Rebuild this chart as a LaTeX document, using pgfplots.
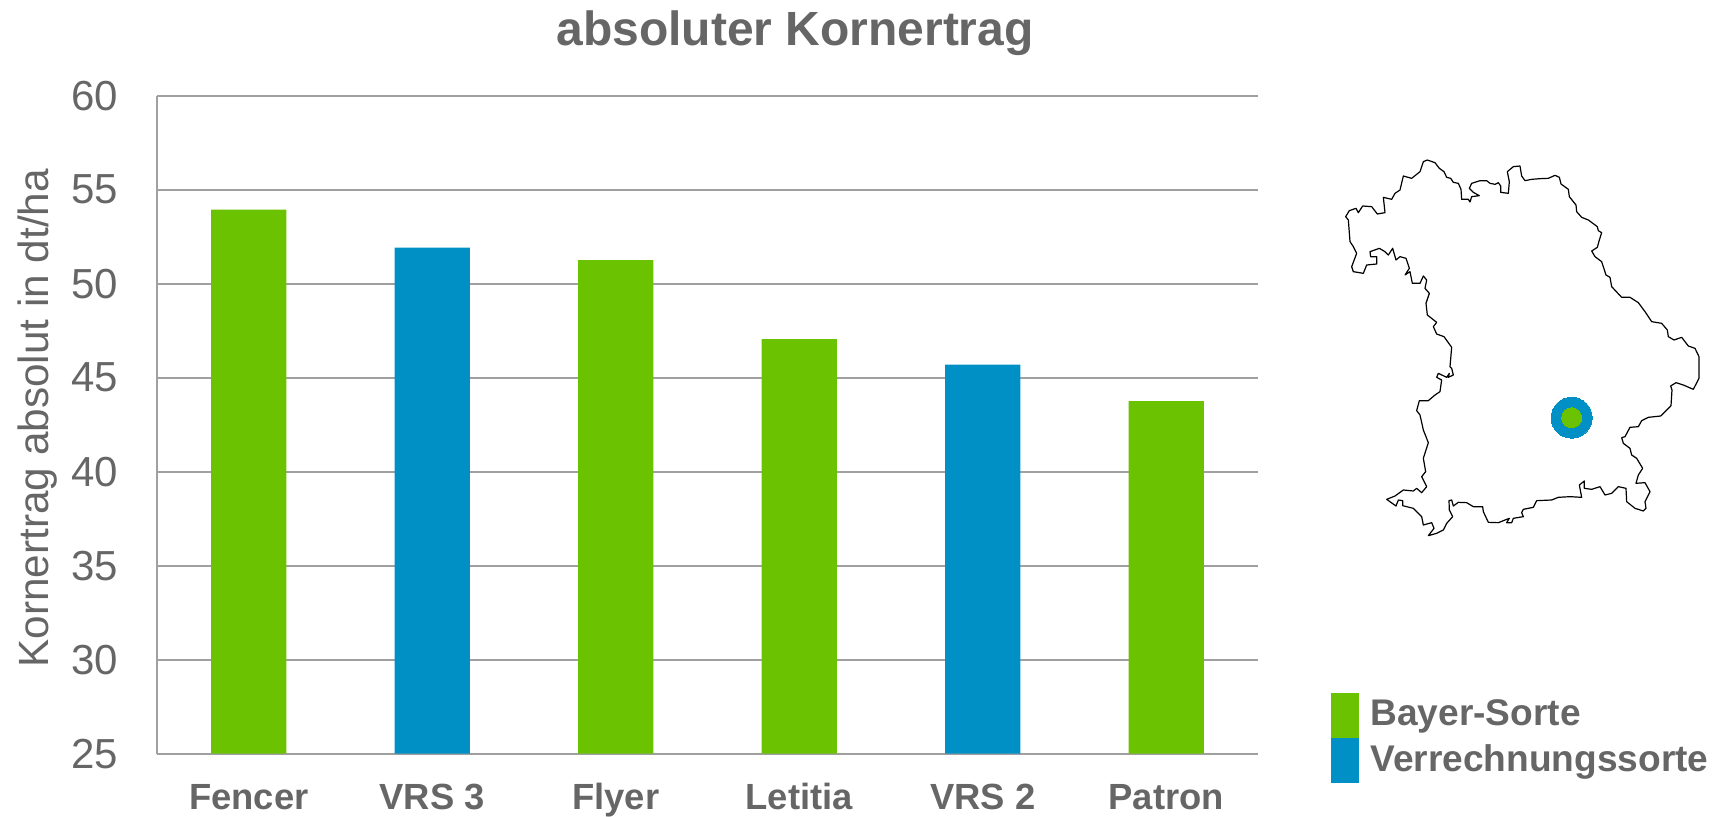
\documentclass[border=0pt]{standalone}
\usepackage{fontspec}
\setmainfont{Liberation Sans}
\usepackage{pgfplots}
\pgfplotsset{compat=1.18}
\definecolor{bgreen}{RGB}{107,194,0}
\definecolor{bblue}{RGB}{0,144,197}
\definecolor{txt}{RGB}{102,102,102}
\definecolor{gridc}{RGB}{160,160,160}
\begin{document}
\begin{tikzpicture}[x=0.5pt,y=-0.5pt]
\useasboundingbox (0,0) rectangle (1721,817);
\coordinate (sw) at (157,753.7);
\coordinate (mapnw) at (1320,140);
\begin{axis}[
  at={(sw)},anchor=south west,scale only axis,
  width=550.5pt,height=329pt,
  xmin=0,xmax=6,ymin=25,ymax=60,
  ytick={25,30,...,60},
  xtick={0.5,1.5,2.5,3.5,4.5,5.5},
  xticklabels={Fencer,VRS 3,Flyer,Letitia,VRS 2,Patron},
  axis lines=left,axis line style={-,gridc,line width=0.9pt},
  ymajorgrids,grid style={gridc,line width=0.9pt},
  major tick length=0pt,
  /pgf/number format/assume math mode=true,
  y tick label style={font=\fontsize{21}{25}\selectfont,text=txt,anchor=east,xshift=-15.8pt},
  x tick label style={font=\fontsize{18.2}{22}\selectfont\bfseries,text=txt,anchor=base,yshift=-28pt},
  ylabel={Kornertrag absolut in dt/ha},
  ylabel style={font=\fontsize{21.15}{25}\selectfont,text=txt,anchor=base,at={(axis description cs:-0.099,0.51)}},
  title={absoluter Kornertrag},
  title style={font=\fontsize{24}{28}\selectfont\bfseries,text=txt,anchor=base,at={(axis description cs:0.5795,1.058)}},
  ybar,bar width=37.7pt,
]
\addplot[ybar,bar shift=0pt,fill=bgreen,draw=none] coordinates {(0.5,53.94) (2.5,51.25) (3.5,47.05) (5.5,43.76)};
\addplot[ybar,bar shift=0pt,fill=bblue,draw=none] coordinates {(1.5,51.92) (4.5,45.7)};
\end{axis}
\begin{axis}[
  at={(mapnw)},anchor=north west,scale only axis,
  width=200pt,height=205pt,hide axis,clip=false,
  xmin=0,xmax=1200,ymin=0,ymax=1230,y dir=reverse,
]
\addplot[black,line width=0.6pt,line join=round] coordinates {
(322,60)(345,68)(358,85)(372,95)(380,112)(392,115)(400,127)(415,130)(423,148)(425,178)(445,178)(450,186)(455,170)(478,167)(460,157)(448,145)(455,130)(480,122)(500,122)(510,130)(525,133)(535,128)(542,138)(542,157)(565,160)(568,125)(562,95)(580,80)(600,78)(605,108)(615,122)(635,118)(660,116)(685,115)(705,106)(718,112)(723,132)(745,148)(748,170)(768,195)(770,215)(785,232)(805,240)(832,260)(835,272)(845,278)(838,300)(832,322)(815,333)(825,350)(845,365)(858,405)(870,412)(875,440)(905,472)(930,472)(955,488)(975,515)(995,545)(1025,550)(1042,570)(1045,590)(1062,600)(1085,592)(1105,618)(1125,625)(1137,650)(1137,715)(1120,748)(1090,735)(1068,728)(1052,738)(1056,750)(1053,797)(1022,828)(985,832)(965,842)(955,860)(930,862)(915,890)(905,893)(910,910)(930,925)(935,945)(950,955)(968,985)(955,1005)(948,1030)(975,1028)(990,1055)(975,1085)(978,1105)(970,1113)(945,1105)(920,1085)(918,1045)(895,1040)(875,1060)(855,1065)(840,1040)(815,1048)(793,1045)(793,1023)(778,1035)(785,1072)(750,1070)(715,1072)(695,1080)(650,1082)(640,1102)(610,1108)(605,1118)(610,1130)(580,1135)(575,1148)(560,1148)(568,1135)(535,1148)(505,1147)(490,1115)(488,1100)(460,1100)(440,1088)(415,1087)(400,1098)(395,1080)(387,1082)(388,1110)(398,1130)(380,1150)(370,1170)(350,1180)(325,1187)(342,1165)(335,1148)(310,1155)(305,1130)(280,1105)(248,1097)(248,1082)(235,1080)(228,1098)(200,1078)(225,1068)(250,1050)(280,1053)(290,1045)(305,1058)(320,1040)(305,1010)(317,995)(310,955)(325,908)(310,870)(300,825)(290,812)(298,782)(325,782)(345,765)(360,755)(365,720)(350,712)(355,700)(380,712)(388,700)(385,712)(400,705)(395,685)(390,680)(395,622)(372,590)(350,582)(340,560)(350,547)(322,525)(318,490)(328,460)(315,445)(320,420)(310,408)(300,430)(277,430)(270,395)(255,405)(268,385)(258,355)(240,350)(228,360)(218,325)(205,345)(195,335)(178,325)(150,335)(152,350)(170,350)(170,372)(140,375)(130,400)(100,395)(95,380)(110,340)(100,320)(90,305)(85,240)(77,230)(88,212)(108,205)(115,218)(128,198)(155,200)(172,222)(195,218)(190,172)(215,178)(225,160)(240,150)(250,108)(275,115)(300,95)(310,65)(322,60)};
\addplot[only marks,color=bblue,mark=*,mark size=10.25pt,mark options={solid,fill=bblue,draw=bblue,line width=0pt}] coordinates {(755,833)};
\addplot[only marks,color=bgreen,mark=*,mark size=5pt,mark options={solid,fill=bgreen,draw=bgreen,line width=0pt}] coordinates {(755,833)};
\end{axis}
\fill[bgreen] (1331,692.7) rectangle (1358.7,738);
\fill[bblue] (1331,738) rectangle (1358.7,783.3);
\node[anchor=base west,inner sep=0pt,text=txt,font=\fontsize{18.55}{22}\selectfont\bfseries] at (1370,726) {Bayer-Sorte};
\node[anchor=base west,inner sep=0pt,text=txt,font=\fontsize{18.55}{22}\selectfont\bfseries] at (1370,772) {Verrechnungssorte};
\end{tikzpicture}
\end{document}
